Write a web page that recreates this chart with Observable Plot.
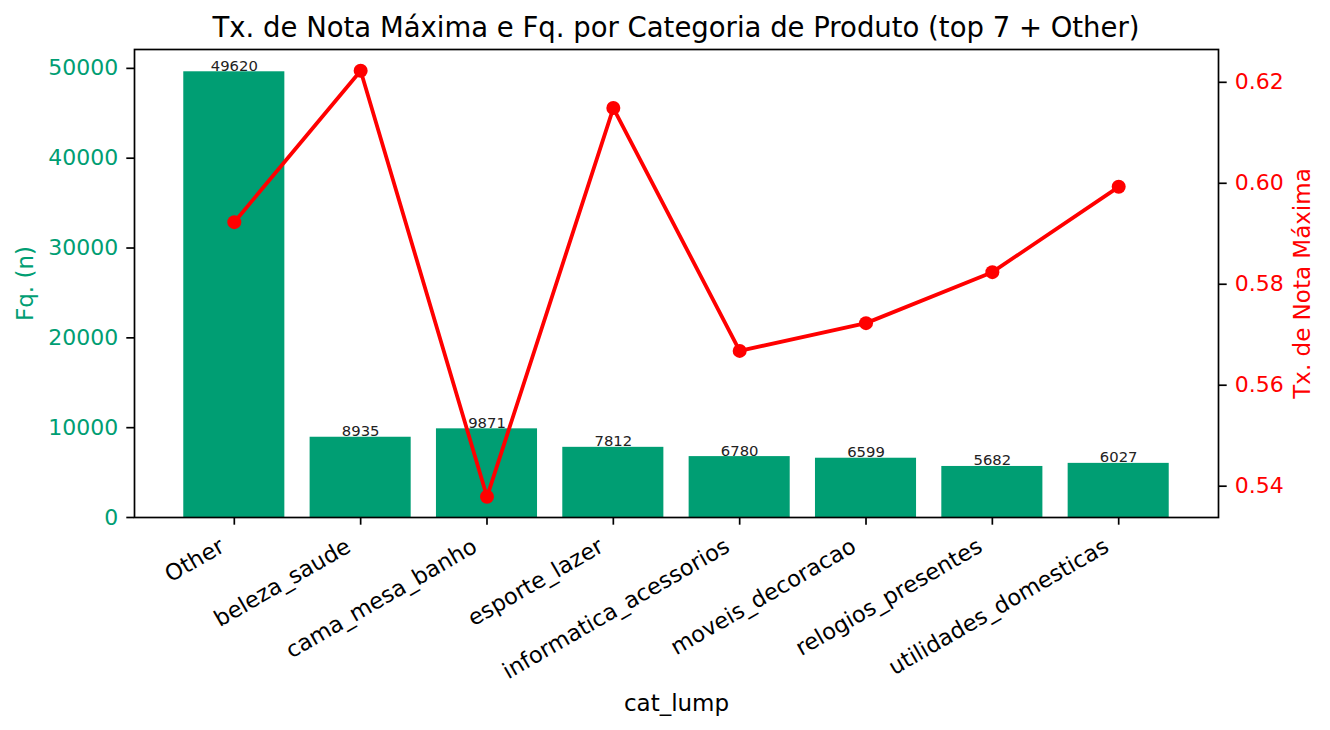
<!DOCTYPE html>
<html><head><meta charset="utf-8">
<script src="https://cdn.jsdelivr.net/npm/d3@7"></script>
<script src="https://cdn.jsdelivr.net/npm/@observablehq/plot@0.6"></script>
<style>
body{margin:0;background:#fff;font-family:"DejaVu Sans",sans-serif;}
#wrap{position:relative;width:1330px;height:730px;overflow:hidden;}
#title{position:absolute;left:0;top:14px;width:1352px;text-align:center;font-size:27.5px;line-height:27.5px;color:#000;}
#wrap svg{position:absolute;left:0;top:0;}
</style></head><body>
<div id="wrap"><div id="title">Tx. de Nota Máxima e Fq. por Categoria de Produto (top 7 + Other)</div></div>
<script>
const categories = ["Other","beleza_saude","cama_mesa_banho","esporte_lazer","informatica_acessorios","moveis_decoracao","relogios_presentes","utilidades_domesticas"];
const counts = [49620, 8935, 9871, 7812, 6780, 6599, 5682, 6027];
const rates = [0.5923, 0.6223, 0.5379, 0.6149, 0.5668, 0.5723, 0.5824, 0.5993];
const leftTicks = [0, 10000, 20000, 30000, 40000, 50000];
const rightTicks = [0.54, 0.56, 0.58, 0.60, 0.62];

const teal = "#009E73";
const red = "#FF0000";
const table = categories.map((c, i) => ({cat: c, n: counts[i], rate: rates[i]}));

const W = 1330, H = 730;
const FS = 22;
const LFS = 23;
const common = {
  width: W, height: H,
  marginLeft: 134, marginRight: 112, marginTop: 49, marginBottom: 213,
  style: {fontFamily: "DejaVu Sans", background: "transparent", overflow: "visible"}
};
const xScale = {type: "band", domain: categories, paddingInner: 0.2, paddingOuter: 0.39, align: 0.5, round: false};

const p1 = Plot.plot({
  ...common,
  x: xScale,
  y: {domain: [0, 52101]},
  marks: [
    Plot.barY(table, {x: "cat", y: "n", fill: teal}),
    Plot.text(table, {x: "cat", y: "n", text: d => String(d.n), lineAnchor: "bottom", dy: -1, fontSize: 14.8, fill: "#222"}),
    Plot.axisY({ticks: leftTicks, tickSize: 7.7, tickPadding: 8.5, fontSize: FS, fill: teal, stroke: "black", strokeWidth: 1.7, label: null, tickFormat: d => String(d)}),
    Plot.axisX({tickSize: 7.7, stroke: "black", strokeWidth: 1.7, tickFormat: () => "", label: null}),
    Plot.axisX({tickRotate: -30, tickSize: 0, tickPadding: 27, dx: -12, fontSize: 22.5, fill: "black", label: null}),
    Plot.frame({stroke: "black", strokeWidth: 1.7}),
    Plot.text(["Fq. (n)"], {frameAnchor: "left", dx: -109, rotate: -90, textAnchor: "middle", lineAnchor: "middle", fontSize: LFS, fill: teal}),
    Plot.text(["cat_lump"], {frameAnchor: "bottom", dy: 186, textAnchor: "middle", lineAnchor: "middle", fontSize: LFS, fill: "black"})
  ]
});

const p2 = Plot.plot({
  ...common,
  x: {...xScale, axis: null},
  y: {domain: [0.5338, 0.6265]},
  marks: [
    Plot.line(table, {x: "cat", y: "rate", stroke: red, strokeWidth: 3.8}),
    Plot.dot(table, {x: "cat", y: "rate", r: 7, fill: red}),
    Plot.axisY({anchor: "right", ticks: rightTicks, tickSize: 7.7, tickPadding: 8.5, fontSize: FS, fill: red, stroke: "black", strokeWidth: 1.7, label: null, tickFormat: d => d.toFixed(2)}),
    Plot.text(["Tx. de Nota Máxima"], {frameAnchor: "right", dx: 84, rotate: -90, textAnchor: "middle", lineAnchor: "middle", fontSize: LFS, fill: red})
  ]
});

const wrap = document.getElementById("wrap");
wrap.appendChild(p1);
wrap.appendChild(p2);
</script>
</body></html>
